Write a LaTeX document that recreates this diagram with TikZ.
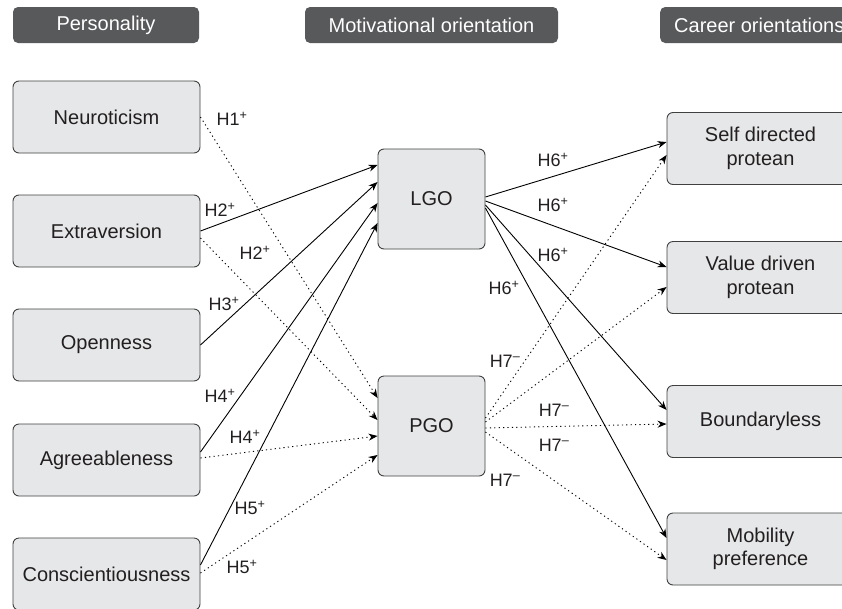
\documentclass[tikz,border=0pt]{standalone}
\usepackage{fontspec}
\setmainfont{Liberation Sans}
\usetikzlibrary{arrows.meta}
\definecolor{boxfill}{HTML}{E6E7E8}
\definecolor{boxline}{HTML}{404040}
\definecolor{headfill}{HTML}{58595B}
\definecolor{inkgray}{HTML}{231F20}
\tikzset{%
  block/.style    = {draw=boxline, fill=boxfill, line width=0.9pt, rounded corners=6pt,
    minimum width=187pt, minimum height=72pt, align=center, text=inkgray,
    font=\fontsize{20}{23.5}\selectfont},
  midblock/.style = {block, minimum width=107pt, minimum height=100pt}, % LGO / PGO
  head/.style     = {fill=headfill, rounded corners=5pt, minimum height=36pt, inner sep=0pt,
    text=white, font=\fontsize{20}{22}\selectfont},
  hyp/.style      = {inner sep=0pt, text=inkgray, font=\fontsize{18}{20}\selectfont},
  solidlink/.style = {->, line width=0.9pt},
  dotlink/.style   = {->, line width=0.9pt, dash pattern=on 1.2pt off 3.2pt}
}
\begin{document}
\begin{tikzpicture}[x=1pt, y=-1pt, >={Stealth[length=9pt, width=7pt]}]
        \useasboundingbox (0,0) rectangle (842,608);
        \clip (0,0) rectangle (842,608);
        % column headers
        \draw
        node at(106,25)[head, minimum width=186pt, name=HeadPers]{Personality}
        node at(431.5,25)[head, minimum width=253pt, name=HeadMot]{Motivational orientation}
        node at(660,25)[head, anchor=west, inner xsep=14pt, name=HeadCar]{Career orientations};
        % personality traits
        \draw
        node at(106.5,117)[block, name=Neuro]{Neuroticism}
        node at(106.5,231)[block, name=Extra]{Extraversion}
        node at(106.5,345)[block, name=Open]{Openness}
        node at(106.5,460)[block, name=Agree]{Agreeableness}
        node at(106.5,574)[block, name=Consc]{Conscientiousness};
        % goal orientations
        \draw
        node at(431.5,199)[midblock, name=LGO]{LGO}
        node at(431.5,426)[midblock, name=PGO]{PGO};
        % career orientations
        \draw
        node at(760.5,148.5)[block, name=Self]{Self directed\\protean}
        node at(760.5,277.5)[block, name=Value]{Value driven\\protean}
        node at(760.5,421.5)[block, name=Bound]{Boundaryless}
        node at(760.5,549)[block, name=Mobil]{Mobility\\preference};
        % traits -> LGO / PGO
        \draw[solidlink](Extra.east) -- ([yshift=34pt]LGO.west);
        \draw[solidlink](Open.east) -- ([yshift=17pt]LGO.west);
        \draw[solidlink]([yshift=8pt]Agree.east) -- ([yshift=-4pt]LGO.west);
        \draw[solidlink]([yshift=9pt]Consc.east) -- ([yshift=-24pt]LGO.west);
        \draw[dotlink](Neuro.east) -- ([yshift=28pt]PGO.west);
        \draw[dotlink]([yshift=-7pt]Extra.east) -- ([yshift=6pt]PGO.west);
        \draw[dotlink]([yshift=2pt]Agree.east) -- ([yshift=-10pt]PGO.west);
        \draw[dotlink]([yshift=1pt]Consc.east) -- ([yshift=-29pt]PGO.west);
        % LGO / PGO -> career orientations
        \draw[solidlink]([yshift=2pt]LGO.east) -- ([yshift=6.5pt]Self.west);
        \draw[solidlink]([yshift=-2pt]LGO.east) -- ([yshift=10.5pt]Value.west);
        \draw[solidlink]([yshift=-6pt]LGO.east) -- ([yshift=11.5pt]Bound.west);
        \draw[solidlink]([yshift=-9pt]LGO.east) -- ([yshift=11pt]Mobil.west);
        \draw[dotlink]([yshift=8pt]PGO.east) -- ([yshift=-6.5pt]Self.west);
        \draw[dotlink]([yshift=4pt]PGO.east) -- ([yshift=-9.5pt]Value.west);
        \draw[dotlink]([yshift=-2pt]PGO.east) -- ([yshift=-2.5pt]Bound.west);
        \draw[dotlink]([yshift=-6pt]PGO.east) -- ([yshift=-11pt]Mobil.west);
        % hypothesis labels
        \draw
        node at(232,119)[hyp, name=HypA]{H1\textsuperscript{+}}
        node at(220,210)[hyp, name=HypB]{H2\textsuperscript{+}}
        node at(255,253)[hyp, name=HypC]{H2\textsuperscript{+}}
        node at(224,304)[hyp, name=HypD]{H3\textsuperscript{+}}
        node at(220,396)[hyp, name=HypE]{H4\textsuperscript{+}}
        node at(245,437)[hyp, name=HypF]{H4\textsuperscript{+}}
        node at(250,508)[hyp, name=HypG]{H5\textsuperscript{+}}
        node at(242,567)[hyp, name=HypH]{H5\textsuperscript{+}}
        node at(553,160)[hyp, name=HypI]{H6\textsuperscript{+}}
        node at(553,205)[hyp, name=HypJ]{H6\textsuperscript{+}}
        node at(553,255)[hyp, name=HypK]{H6\textsuperscript{+}}
        node at(504,288)[hyp, name=HypL]{H6\textsuperscript{+}}
        node at(505,361)[hyp, name=HypM]{H7\textsuperscript{–}}
        node at(554,410)[hyp, name=HypN]{H7\textsuperscript{–}}
        node at(554,445)[hyp, name=HypO]{H7\textsuperscript{–}}
        node at(505,480)[hyp, name=HypP]{H7\textsuperscript{–}};
    \end{tikzpicture}
\end{document}
